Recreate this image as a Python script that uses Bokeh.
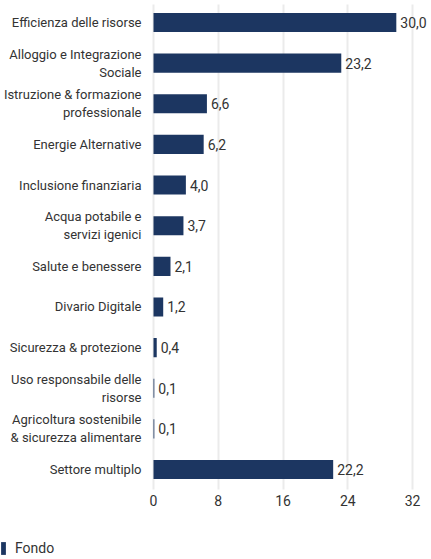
from bokeh.plotting import figure
from bokeh.models import Range1d, FixedTicker, ColumnDataSource, Legend, LegendItem, LinearAxis
from bokeh.core.properties import value
from bokeh.embed import file_html
from bokeh.resources import INLINE

categories = [
    "Efficienza delle risorse",
    "Alloggio e Integrazione\nSociale",
    "Istruzione & formazione\nprofessionale",
    "Energie Alternative",
    "Inclusione finanziaria",
    "Acqua potabile e\nservizi igenici",
    "Salute e benessere",
    "Divario Digitale",
    "Sicurezza & protezione",
    "Uso responsabile delle\nrisorse",
    "Agricoltura sostenibile\n& sicurezza alimentare",
    "Settore multiplo",
]
values = [30.0, 23.2, 6.6, 6.2, 4.0, 3.7, 2.1, 1.2, 0.4, 0.1, 0.1, 22.2]
x_ticks = [0, 8, 16, 24, 32]
series_name = "Fondo"

FONT = "Roboto"
FS_CAT = "13px"
FS = "14px"
BAR = "#1c3661"
TXT = "#333333"
GRID = "#ebebeb"

# layout constants (pixels)
W, H = 431, 559
X0_PX, X32_PX = 153, 412
PPU = (X32_PX - X0_PX) / x_ticks[-1]
ROW_PX = 40.64
TOP_PX = 22
GRID_TOP_PX = 4

n = len(categories)
ypos = list(range(n - 1, -1, -1))
labels = [f"{v:.1f}".replace(".", ",") for v in values]
src = ColumnDataSource(dict(y=ypos, val=values, lab=labels))

x_range = Range1d(-X0_PX / PPU, (W - X0_PX) / PPU)
y_range = Range1d((n - 1) - (H - TOP_PX) / ROW_PX, (n - 1) + TOP_PX / ROW_PX)
axis_px = TOP_PX + (n - 0.5) * ROW_PX

p = figure(width=W, height=H, output_backend="svg", toolbar_location=None,
           x_range=x_range, y_range=y_range,
           x_axis_location=None, y_axis_location=None,
           min_border=0, min_border_left=0, min_border_right=0,
           min_border_top=0, min_border_bottom=0)
p.outline_line_color = None
p.grid.visible = False

r = p.hbar(y="y", right="val", left=0, height=0.47, source=src,
           fill_color=BAR, line_color=None)
p.text(x="val", y="y", text="lab", source=src, x_offset=4,
       text_baseline="middle", text_align="left", text_font=value(FONT),
       text_font_size=FS, text_color=TXT)

# x axis: ticks drawn inward act as the vertical grid lines
xaxis = LinearAxis(fixed_location=-0.5, ticker=FixedTicker(ticks=x_ticks))
xaxis.level = "underlay"
xaxis.axis_line_color = None
xaxis.major_tick_in = int(round(axis_px - GRID_TOP_PX))
xaxis.major_tick_out = 0
xaxis.major_tick_line_color = GRID
xaxis.major_tick_line_width = 2
xaxis.minor_tick_line_color = None
xaxis.major_label_text_font = FONT
xaxis.major_label_text_font_size = FS
xaxis.major_label_text_color = TXT
xaxis.major_label_standoff = 5
p.add_layout(xaxis, "below")

# y axis: category names
yaxis = LinearAxis(fixed_location=0, ticker=FixedTicker(ticks=ypos),
                   major_label_overrides={y: c for y, c in zip(ypos, categories)})
yaxis.axis_line_color = None
yaxis.major_tick_line_color = None
yaxis.minor_tick_line_color = None
yaxis.major_label_text_font = FONT
yaxis.major_label_text_font_size = FS_CAT
yaxis.major_label_text_color = TXT
yaxis.major_label_standoff = 6
p.add_layout(yaxis, "left")

legend = Legend(items=[LegendItem(label=series_name, renderers=[r])],
                location=(0, 3), orientation="horizontal",
                glyph_width=6, glyph_height=16, label_standoff=9,
                padding=0, margin=0, spacing=0,
                border_line_color=None, background_fill_alpha=0,
                label_text_font=FONT, label_text_font_size=FS,
                label_text_color=TXT, label_height=16)
p.add_layout(legend)

open("out.html", "w").write(file_html(p, INLINE))
